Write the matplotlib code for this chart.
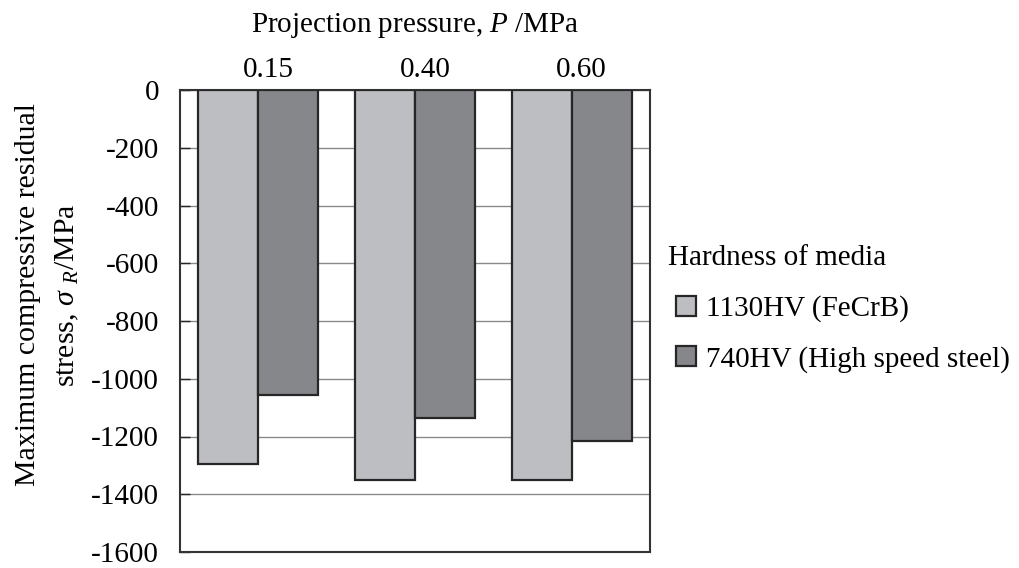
import matplotlib
matplotlib.use("Agg")
import matplotlib.pyplot as plt
import matplotlib.transforms as mtransforms
import numpy as np

# data
pressures = ["0.15", "0.40", "0.60"]
series_names = ["1130HV (FeCrB)", "740HV (High speed steel)"]
stress_fecrb = [-1295, -1350, -1350]
stress_hss = [-1055, -1135, -1215]
yticks = [0, -200, -400, -600, -800, -1000, -1200, -1400, -1600]

plt.rcParams["font.family"] = ["Liberation Serif", "DejaVu Serif"]
plt.rcParams["mathtext.fontset"] = "custom"
plt.rcParams["mathtext.rm"] = "Liberation Serif"
plt.rcParams["mathtext.it"] = "Liberation Serif:italic"
plt.rcParams["axes.unicode_minus"] = False

fig = plt.figure(figsize=(10.2, 5.68), dpi=100)
ax = fig.add_axes([180 / 1020, 1 - 552 / 568, 470 / 1020, 462 / 568])

x = np.arange(len(pressures))
w = 0.383
edge = "#262626"
ax.bar(x - w / 2, stress_fecrb, w, color="#bdbec2", edgecolor=edge, linewidth=1.6,
       label=series_names[0], zorder=3)
ax.bar(x + w / 2, stress_hss, w, color="#86878b", edgecolor=edge, linewidth=1.6,
       label=series_names[1], zorder=3)

ax.set_xlim(-0.5, len(pressures) - 0.5)
ax.set_ylim(-1600, 0)
ax.set_yticks(yticks)
ax.set_yticklabels([str(v) for v in yticks])
ax.yaxis.grid(True, color="#8a8a8a", linewidth=1.0, zorder=0)
ax.set_axisbelow(True)

ax.xaxis.tick_top()
ax.xaxis.set_label_position("top")
ax.set_xticks(x)
ax.set_xticklabels(pressures)
ax.tick_params(axis="x", length=0, pad=5, labelsize=21)
ax.tick_params(axis="y", direction="in", length=7, width=1, color=edge, pad=15, labelsize=21)
# the pressure labels sit a little right of the bar pairs in the original
shift = mtransforms.ScaledTranslation(10 / 100, 0, fig.dpi_scale_trans)
for lbl in ax.get_xticklabels():
    lbl.set_transform(lbl.get_transform() + shift)
ax.set_xlabel("Projection pressure, $P$ /MPa", fontsize=21, labelpad=18)

fig.text(48 / 1020, 1 - 295 / 568,
         "Maximum compressive residual\nstress, $\\sigma$ $_R$/MPa",
         rotation=90, ha="center", va="center", fontsize=21.5, linespacing=1.6,
         multialignment="center")

for s in ax.spines.values():
    s.set_color("#333333")
    s.set_linewidth(1.5)

fig.text(668 / 1020, 1 - 258 / 568, "Hardness of media", fontsize=21,
         ha="left", va="center")
leg = ax.legend(loc="center left", bbox_to_anchor=(676 / 1020, 1 - 334 / 568),
                bbox_transform=fig.transFigure, frameon=False, fontsize=21,
                handlelength=0.68, handleheight=0.68, handletextpad=0.35,
                labelspacing=0.8, borderpad=0, borderaxespad=0)

fig.savefig("out.png", dpi=100)
